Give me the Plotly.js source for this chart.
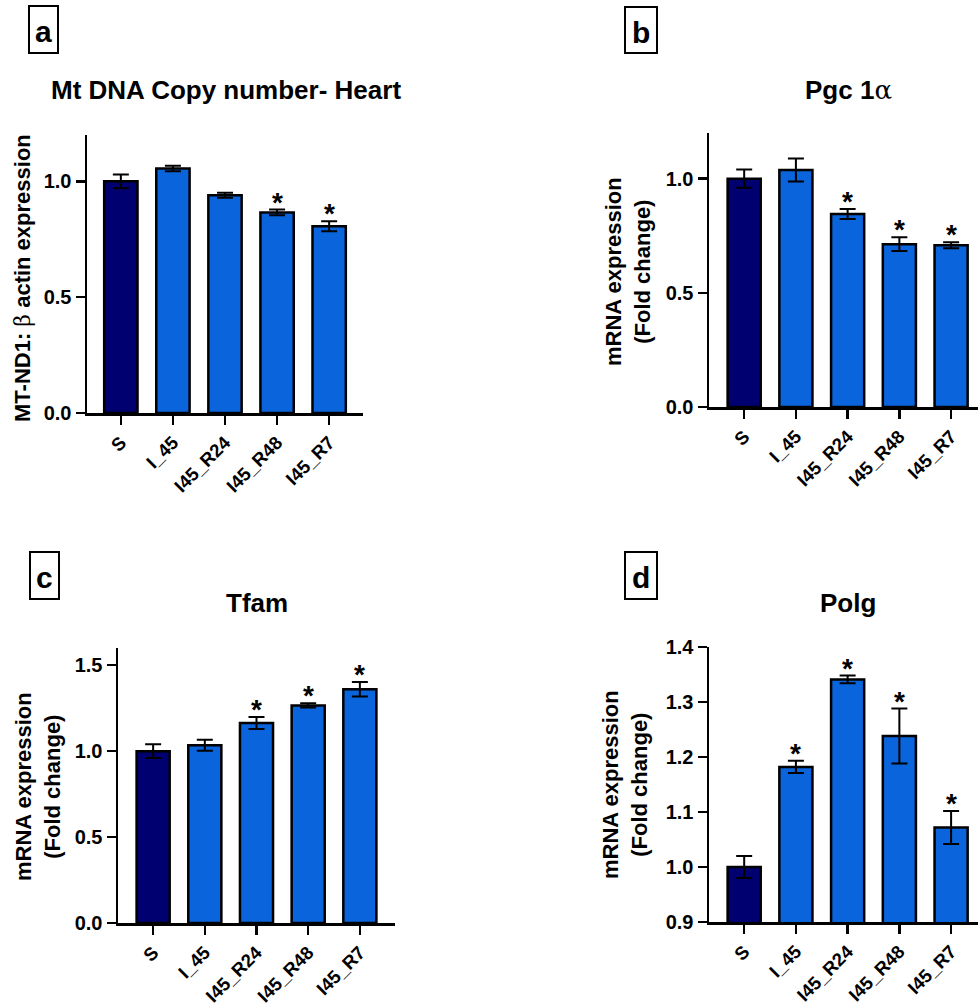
<!DOCTYPE html>
<html>
<head>
<meta charset="utf-8">
<script src="https://cdn.plot.ly/plotly-3.0.1.min.js"></script>
<style>html,body{margin:0;padding:0;background:#fff}#chart{width:978px;height:1007px}</style>
</head>
<body>
<div id="chart"></div>
<script>
// ---- data ----
const categories = ['S', 'I_45', 'I45_R24', 'I45_R48', 'I45_R7'];
const barColors = ['#000070', '#0a64dc', '#0a64dc', '#0a64dc', '#0a64dc'];

const mtdnaMean = [1.00, 1.055, 0.94, 0.866, 0.806];
const mtdnaErr  = [0.03, 0.012, 0.011, 0.012, 0.022];
const mtdnaSig  = [false, false, false, true, true];
const mtdnaTicks = [0, 0.5, 1.0];

const pgcMean = [1.00, 1.038, 0.845, 0.713, 0.708];
const pgcErr  = [0.04, 0.05, 0.022, 0.03, 0.013];
const pgcSig  = [false, false, true, true, true];
const pgcTicks = [0, 0.5, 1.0];

const tfamMean = [1.00, 1.034, 1.164, 1.266, 1.36];
const tfamErr  = [0.04, 0.032, 0.035, 0.012, 0.042];
const tfamSig  = [false, false, true, true, true];
const tfamTicks = [0, 0.5, 1.0, 1.5];

const polgMean = [1.00, 1.182, 1.341, 1.238, 1.072];
const polgErr  = [0.02, 0.011, 0.007, 0.05, 0.03];
const polgSig  = [false, true, true, true, true];
const polgTicks = [0.9, 1.0, 1.1, 1.2, 1.3, 1.4];

const panelTitles = ['Mt DNA Copy number- Heart',
  'Pgc 1<span style="font-family:\'DejaVu Serif\';font-weight:normal">α</span>',
  'Tfam', 'Polg'];
const yTitles = ['MT-ND1: <span style="font-family:\'DejaVu Serif\';font-weight:normal">β</span> actin expression',
  'mRNA expression<br>(Fold change)', 'mRNA expression<br>(Fold change)', 'mRNA expression<br>(Fold change)'];
const panelLetters = ['a', 'b', 'c', 'd'];

// ---- layout helpers ----
const W = 978, H = 1007;
const FONT = 'Liberation Sans, Arial, Helvetica, sans-serif';
const px = v => v / W;
const py = v => 1 - v / H;
const bold = s => '<b>' + s + '</b>';

const panels = [
  {mean: mtdnaMean, err: mtdnaErr, sig: mtdnaSig, ticks: mtdnaTicks, xd: [87, 363], yd: [413, 135], xr: [-0.65, 4.65], yr: [0, 1.2],
   title: [226, 90], ytitle: [22, 278], box: [29, 6, 58, 53]},
  {mean: pgcMean, err: pgcErr, sig: pgcSig, ticks: pgcTicks, xd: [709, 978], yd: [407, 133], xr: [-0.68, 4.52], yr: [0, 1.2],
   title: [848, 90], ytitle: [628, 272], box: [625, 7, 657, 53]},
  {mean: tfamMean, err: tfamErr, sig: tfamSig, ticks: tfamTicks, xd: [118, 395], yd: [923, 648], xr: [-0.68, 4.68], yr: [0, 1.6],
   title: [257, 603], ytitle: [38, 787], box: [30, 552, 59, 599]},
  {mean: polgMean, err: polgErr, sig: polgSig, ticks: polgTicks, xd: [709, 978], yd: [922, 647], xr: [-0.68, 4.52], yr: [0.9, 1.4],
   title: [848, 603], ytitle: [625, 785], box: [625, 552, 657, 599]}
];

const traces = [];
const layout = {
  width: W, height: H,
  margin: {l: 0, r: 0, t: 0, b: 0},
  paper_bgcolor: '#ffffff', plot_bgcolor: 'rgba(0,0,0,0)',
  showlegend: false,
  font: {family: FONT, color: '#000'},
  annotations: [], shapes: []
};

panels.forEach((p, i) => {
  const n = i === 0 ? '' : String(i + 1);
  const xa = 'x' + n, ya = 'y' + n;
  traces.push({
    type: 'bar', x: categories, y: p.mean, xaxis: xa, yaxis: ya,
    width: 0.64,
    marker: {color: barColors, line: {color: '#000', width: 2.5}},
    error_y: {type: 'data', array: p.err, visible: true, color: '#000', thickness: 2, width: 8},
    hoverinfo: 'x+y'
  });
  layout['xaxis' + n] = {
    domain: [px(p.xd[0]), px(p.xd[1])], anchor: ya, type: 'category', range: p.xr,
    tickmode: 'array', tickvals: categories, ticktext: categories.map(bold),
    showline: true, linecolor: '#000', linewidth: 2.5, showgrid: false, zeroline: false,
    ticks: 'outside', ticklen: 9, tickwidth: 2.5, tickcolor: '#000', tickangle: -45,
    tickfont: {family: FONT, size: 18.5, color: '#000'}, fixedrange: true
  };
  layout['yaxis' + n] = {
    domain: [py(p.yd[0]), py(p.yd[1])], anchor: xa, range: p.yr,
    tickmode: 'array', tickvals: p.ticks, ticktext: p.ticks.map(v => bold(v.toFixed(1))),
    showline: true, linecolor: '#000', linewidth: 2.5, showgrid: false, zeroline: false,
    ticks: 'outside', ticklen: 9, tickwidth: 2.5, tickcolor: '#000',
    tickfont: {family: FONT, size: 20, color: '#000'}, fixedrange: true
  };
  // significance stars
  categories.forEach((c, k) => {
    if (p.sig[k]) {
      layout.annotations.push({
        xref: xa, yref: ya, x: c, y: p.mean[k] + p.err[k], text: '<b>*</b>', showarrow: false,
        yanchor: 'bottom', yshift: -10, font: {family: FONT, size: 28, color: '#000'}
      });
    }
  });
  // panel title
  layout.annotations.push({
    xref: 'paper', yref: 'paper', x: px(p.title[0]), y: py(p.title[1]), xanchor: 'center', yanchor: 'middle',
    text: bold(panelTitles[i]), showarrow: false, font: {family: FONT, size: 26, color: '#000'}
  });
  // y axis title
  layout.annotations.push({
    xref: 'paper', yref: 'paper', x: px(p.ytitle[0]), y: py(p.ytitle[1]), xanchor: 'center', yanchor: 'middle',
    text: bold(yTitles[i]), textangle: -90, showarrow: false,
    font: {family: FONT, size: 22, color: '#000'}
  });
  // panel letter box
  const b = p.box;
  layout.shapes.push({type: 'rect', xref: 'paper', yref: 'paper',
    x0: px(b[0]), x1: px(b[2]), y0: py(b[3]), y1: py(b[1]), line: {color: '#000', width: 2}, fillcolor: 'rgba(0,0,0,0)'});
  layout.annotations.push({
    xref: 'paper', yref: 'paper', x: px((b[0] + b[2]) / 2), y: py((b[1] + b[3]) / 2 + 2), xanchor: 'center', yanchor: 'middle',
    text: bold(panelLetters[i]), showarrow: false, font: {family: FONT, size: 30, color: '#000'}
  });
});

Plotly.newPlot('chart', traces, layout, {displayModeBar: false, staticPlot: true});
</script>
</body>
</html>
